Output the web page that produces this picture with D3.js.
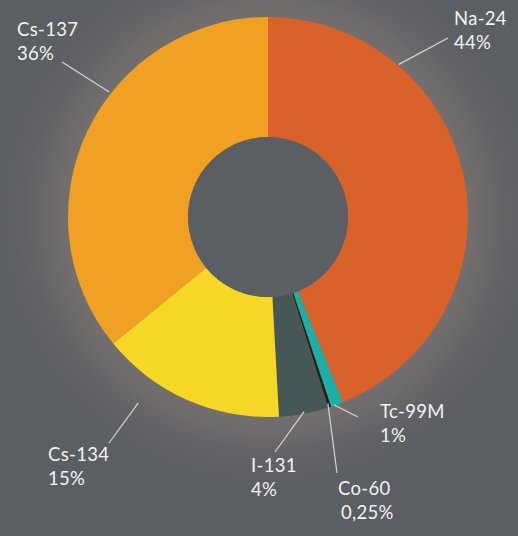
<!DOCTYPE html>
<html>
<head>
<meta charset="utf-8">
<script src="https://cdn.jsdelivr.net/npm/d3@7"></script>
<style>
  html, body { margin: 0; padding: 0; background: #5b5e62; }
  svg { display: block; }
  .lbl { font-family: Lato, "Open Sans", sans-serif; font-size: 18.5px; fill: #f2f2f2; letter-spacing: 0.3px; }
  .lead { stroke: #d6d6d6; stroke-width: 1.2; }
</style>
</head>
<body>
<svg id="chart" width="518" height="536"></svg>
<script>
// isotopes, clockwise from 12 o'clock
var isotopes = ['Na-24', 'Tc-99M', 'Co-60', 'I-131', 'Cs-134', 'Cs-137'];
var shares   = [44, 1, 0.25, 4, 15, 36];
var pctText  = ['44%', '1%', '0,25%', '4%', '15%', '36%'];
var colours  = ['#d9612a', '#1bb0a6', '#2b1d18', '#465756', '#f6d726', '#f0a023'];

// label placement: leader start (angle deg, radius), leader end, text anchor
var labelLayout = [
    { a: 40.6,  r: 201, end: [448, 38],  txt: [454, 25] },
    { a: 160.7, r: 199, end: [358, 417], txt: [380, 418] },
    { a: 162.2, r: 196, end: [337, 473], txt: [338, 495], sub: 341 },
    { a: 169.5, r: 198, end: [275, 452], txt: [251, 472] },
    { a: 214.9, r: 227, end: [109, 443], txt: [48, 461] },
    { a: 308.2, r: 202, end: [62, 62],   txt: [17, 36] }
];

var svg = d3.select('#chart');
var cx = 268, cy = 217, outer = 200, inner = 80;

var defs = svg.append('defs');
var glow = defs.append('radialGradient')
    .attr('id', 'glow')
    .attr('gradientUnits', 'userSpaceOnUse')
    .attr('cx', cx).attr('cy', cy).attr('r', 290);
glow.append('stop').attr('offset', 0.66).attr('stop-color', '#76716f').attr('stop-opacity', 1);
glow.append('stop').attr('offset', 0.75).attr('stop-color', '#726e6d').attr('stop-opacity', 0.75);
glow.append('stop').attr('offset', 0.86).attr('stop-color', '#676769').attr('stop-opacity', 0.35);
glow.append('stop').attr('offset', 1).attr('stop-color', '#5b5e62').attr('stop-opacity', 0);

svg.append('rect').attr('width', 518).attr('height', 536).attr('fill', '#5b5e62');
svg.append('circle').attr('cx', cx).attr('cy', cy).attr('r', 290).attr('fill', 'url(#glow)');

var g = svg.append('g').attr('transform', 'translate(' + cx + ',' + cy + ')');

var pie = d3.pie().sort(null).value(function (d) { return d; });
var arc = d3.arc().innerRadius(inner).outerRadius(outer);

g.selectAll('path.slice')
 .data(pie(shares))
 .enter().append('path')
   .attr('class', 'slice')
   .attr('d', arc)
   .attr('fill', function (d, i) { return colours[i]; });

// inner hole
g.append('circle').attr('r', inner).attr('fill', '#5b5e62');

var toRad = Math.PI / 180;
for (var i = 0; i < isotopes.length; i++) {
    var L = labelLayout[i];
    var p = d3.pointRadial(L.a * toRad, L.r);
    svg.append('line')
       .attr('class', 'lead')
       .attr('x1', cx + p[0]).attr('y1', cy + p[1])
       .attr('x2', L.end[0]).attr('y2', L.end[1]);
    svg.append('text')
       .attr('class', 'lbl')
       .attr('x', L.txt[0]).attr('y', L.txt[1])
       .text(isotopes[i]);
    svg.append('text')
       .attr('class', 'lbl')
       .attr('x', L.sub || L.txt[0]).attr('y', L.txt[1] + 24)
       .text(pctText[i]);
}
</script>
</body>
</html>
